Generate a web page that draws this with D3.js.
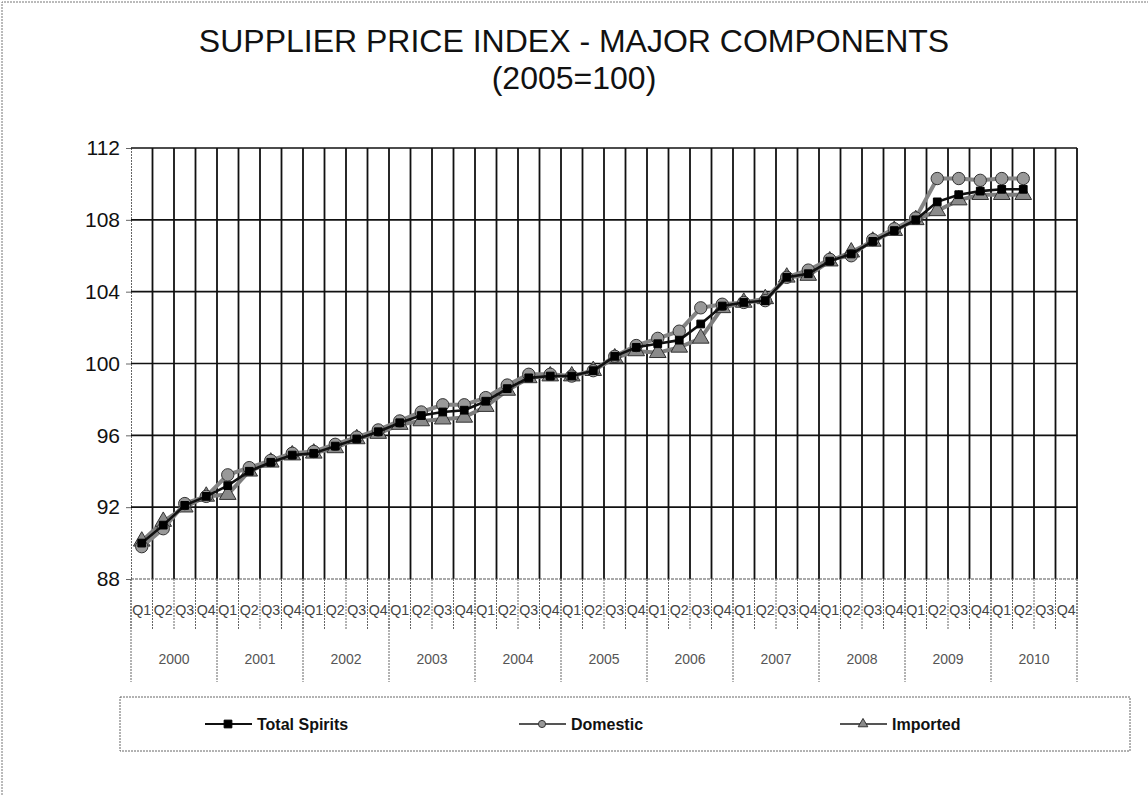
<!DOCTYPE html>
<html>
<head>
	<title>Supplier Price Index - Major Components</title>
	<script src="https://d3js.org/d3.v7.min.js"></script>
	<style type="text/css">
		body { margin: 0; background: #fff; }
		svg { display: block; font-family: "Liberation Sans", Arial, sans-serif; }
	</style>
</head>
<body>
	<svg width="1148" height="795"></svg>

<script type="text/javascript">
	// quarterly index, 2000 Q1 .. 2010 Q2
	const years = ["2000", "2001", "2002", "2003", "2004", "2005", "2006", "2007", "2008", "2009", "2010"];
	const quarters = ["Q1", "Q2", "Q3", "Q4"];
	const yTicks = [88, 92, 96, 100, 104, 108, 112];

	const totalSpirits = [90.0, 91.0, 92.1, 92.6, 93.2, 94.0, 94.5, 94.9, 95.0, 95.4, 95.8, 96.2,
		96.7, 97.1, 97.3, 97.4, 97.9, 98.6, 99.2, 99.3, 99.3, 99.6, 100.4, 100.9,
		101.1, 101.3, 102.2, 103.2, 103.4, 103.5, 104.8, 105.0, 105.7, 106.1, 106.8, 107.4,
		108.0, 109.0, 109.4, 109.6, 109.7, 109.7];
	const domestic = [89.8, 90.8, 92.2, 92.6, 93.8, 94.2, 94.6, 95.0, 95.1, 95.5, 95.9, 96.3,
		96.8, 97.3, 97.7, 97.7, 98.1, 98.8, 99.4, 99.4, 99.3, 99.6, 100.4, 101.0,
		101.4, 101.8, 103.1, 103.3, 103.4, 103.5, 104.8, 105.2, 105.8, 106.0, 106.9, 107.5,
		108.1, 110.3, 110.3, 110.2, 110.3, 110.3];
	const imported = [90.1, 91.2, 92.0, 92.6, 92.7, 94.0, 94.5, 94.9, 95.0, 95.3, 95.8, 96.1,
		96.6, 96.8, 96.9, 97.0, 97.6, 98.5, 99.2, 99.3, 99.3, 99.6, 100.3, 100.7,
		100.6, 100.9, 101.4, 103.1, 103.4, 103.6, 104.8, 104.9, 105.7, 106.2, 106.8, 107.4,
		108.0, 108.5, 109.1, 109.4, 109.4, 109.4];

	const svg = d3.select("svg");
	const plot = {left: 131, right: 1077, top: 148, bottom: 579};

	const categories = years.flatMap(yr => quarters.map(q => yr + " " + q));

	const x = d3.scaleBand().domain(categories).range([plot.left, plot.right]);
	const xYear = d3.scaleBand().domain(years).range([plot.left, plot.right]);
	const y = d3.scaleLinear().domain([88, 112]).range([plot.bottom, plot.top]);

	// outer frame (only top and left show in the scan)
	svg.append("path")
		.attr("d", "M2,795 L2,2 L1148,2")
		.attr("fill", "none").attr("stroke", "#777")
		.attr("stroke-width", 1).attr("stroke-dasharray", "2,1");

	// title
	svg.append("text").attr("x", 574).attr("y", 52)
		.attr("text-anchor", "middle").attr("font-size", 32).attr("fill", "#111")
		.text("SUPPLIER PRICE INDEX - MAJOR COMPONENTS");
	svg.append("text").attr("x", 574).attr("y", 89)
		.attr("text-anchor", "middle").attr("font-size", 32).attr("fill", "#111")
		.text("(2005=100)");

	// horizontal gridlines + y labels
	const yAxis = d3.axisLeft(y).tickValues(yTicks).tickSize(5).tickPadding(6);
	const yg = svg.append("g").attr("transform", "translate(" + plot.left + ",0)").call(yAxis);
	yg.select(".domain").attr("stroke", "#666").attr("stroke-dasharray", "2,1");
	yg.selectAll(".tick line").attr("stroke", "#666");
	yg.selectAll(".tick text").attr("font-size", 21).attr("fill", "#111")
		.attr("font-family", "Liberation Sans, Arial, sans-serif");

	svg.append("g").selectAll("line")
		.data(yTicks.filter(d => d > 88))
		.join("line")
		.attr("x1", plot.left).attr("x2", plot.right)
		.attr("y1", d => y(d)).attr("y2", d => y(d))
		.attr("stroke", "#111").attr("stroke-width", 1.6);

	// vertical gridlines at quarter boundaries
	const bounds = categories.slice(1).map(c => x(c)).concat([plot.right]);
	svg.append("g").selectAll("line")
		.data(bounds)
		.join("line")
		.attr("x1", d => d).attr("x2", d => d)
		.attr("y1", plot.top).attr("y2", plot.bottom)
		.attr("stroke", "#111").attr("stroke-width", 1.8);

	svg.append("line")
		.attr("x1", plot.left).attr("x2", plot.right)
		.attr("y1", plot.bottom).attr("y2", plot.bottom)
		.attr("stroke", "#555").attr("stroke-width", 1.2).attr("stroke-dasharray", "3,1");

	// category axis: quarter ticks + labels
	svg.append("g").selectAll("line")
		.data(categories.map(c => x(c)).concat([plot.right]))
		.join("line")
		.attr("x1", d => d).attr("x2", d => d)
		.attr("y1", plot.bottom).attr("y2", 630)
		.attr("stroke", "#666").attr("stroke-width", 1).attr("stroke-dasharray", "2,1");

	svg.append("g").selectAll("text")
		.data(categories)
		.join("text")
		.attr("x", d => x(d) + x.bandwidth() / 2)
		.attr("y", 615)
		.attr("text-anchor", "middle")
		.attr("font-size", 15)
		.attr("fill", "#444")
		.attr("textLength", 19).attr("lengthAdjust", "spacingAndGlyphs")
		.text(d => d.split(" ")[1]);

	// year separators + labels
	svg.append("g").selectAll("line")
		.data(years.map(yr => xYear(yr)).concat([plot.right]))
		.join("line")
		.attr("x1", d => d).attr("x2", d => d)
		.attr("y1", plot.bottom).attr("y2", 682)
		.attr("stroke", "#666").attr("stroke-width", 1).attr("stroke-dasharray", "2,1");

	svg.append("g").selectAll("text")
		.data(years)
		.join("text")
		.attr("x", d => xYear(d) + xYear.bandwidth() / 2)
		.attr("y", 664)
		.attr("text-anchor", "middle")
		.attr("font-size", 14)
		.attr("fill", "#555")
		.text(d => d);

	// series
	const cx = (d, i) => x(categories[i]) + x.bandwidth() / 2;
	const line = d3.line().x(cx).y(d => y(d));

	const series = [
		{name: "Imported", values: imported, stroke: "#7d7d7d", width: 4, symbol: d3.symbolTriangle, size: 120, fill: "#8a8a8a", edge: "#333"},
		{name: "Domestic", values: domestic, stroke: "#858585", width: 4, symbol: d3.symbolCircle, size: 120, fill: "#999", edge: "#333"},
		{name: "Total Spirits", values: totalSpirits, stroke: "#111", width: 2.6, symbol: d3.symbolSquare, size: 60, fill: "#000", edge: "#000"}
	];

	series.forEach(s => {
		svg.append("path")
			.datum(s.values)
			.attr("fill", "none")
			.attr("stroke", s.stroke)
			.attr("stroke-width", s.width)
			.attr("d", line);
		svg.append("g").selectAll("path")
			.data(s.values)
			.join("path")
			.attr("transform", (d, i) => "translate(" + cx(d, i) + "," + y(d) + ")")
			.attr("d", d3.symbol().type(s.symbol).size(s.size))
			.attr("fill", s.fill)
			.attr("stroke", s.edge)
			.attr("stroke-width", 1);
	});

	// legend
	svg.append("rect")
		.attr("x", 120).attr("y", 697).attr("width", 1010).attr("height", 54)
		.attr("fill", "none").attr("stroke", "#666").attr("stroke-dasharray", "2,1");

	const legendItems = [
		{name: "Total Spirits", x: 205, s: series[2]},
		{name: "Domestic", x: 519, s: series[1]},
		{name: "Imported", x: 840, s: series[0]}
	];
	const lg = svg.append("g").selectAll("g")
		.data(legendItems)
		.join("g")
		.attr("transform", d => "translate(" + d.x + ",724)");
	lg.append("line")
		.attr("x1", 0).attr("x2", 47).attr("y1", 0).attr("y2", 0)
		.attr("stroke", d => d.name === "Total Spirits" ? "#111" : "#555")
		.attr("stroke-width", 2);
	lg.append("path")
		.attr("transform", "translate(23,0)")
		.attr("d", d => d3.symbol().type(d.s.symbol).size(d.name === "Total Spirits" ? 60 : 40)())
		.attr("fill", d => d.s.fill).attr("stroke", d => d.s.edge);
	lg.append("text")
		.attr("x", 52).attr("y", 6)
		.attr("font-size", 16).attr("font-weight", "bold").attr("fill", "#111")
		.text(d => d.name);
</script>
</body>
</html>
